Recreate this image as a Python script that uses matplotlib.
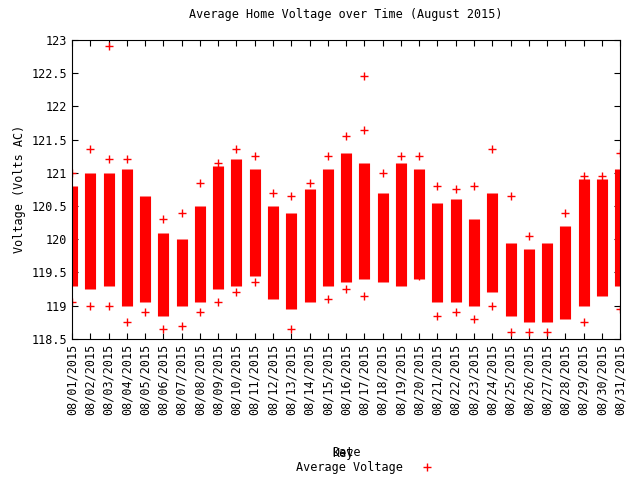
import matplotlib
matplotlib.use("Agg")
import matplotlib.pyplot as plt

# Per-day dense range of readings (volts) and scattered outliers
days = list(range(1, 32))
low = [119.3, 119.25, 119.3, 119.0, 119.05, 118.85, 119.0, 119.05, 119.25, 119.3,
       119.45, 119.1, 118.95, 119.05, 119.3, 119.35, 119.4, 119.35, 119.3, 119.4,
       119.05, 119.05, 119.0, 119.2, 118.85, 118.75, 118.75, 118.8, 119.0, 119.15, 119.3]
high = [120.8, 121.0, 121.0, 121.05, 120.65, 120.1, 120.0, 120.5, 121.1, 121.2,
        121.05, 120.5, 120.4, 120.75, 121.05, 121.3, 121.15, 120.7, 121.15, 121.05,
        120.55, 120.6, 120.3, 120.7, 119.95, 119.85, 119.95, 120.2, 120.9, 120.9, 121.05]
out_days = [1, 1, 2, 2, 3, 3, 3, 4, 4, 5, 6, 6, 7, 7, 8, 8, 9, 9, 10, 10, 11, 11,
            12, 13, 13, 14, 15, 15, 16, 16, 17, 17, 17, 18, 19, 20, 20, 21, 21,
            22, 22, 23, 23, 24, 24, 25, 25, 26, 26, 27, 28, 29, 29, 30, 31, 31]
out_vals = [121.0, 119.05, 121.35, 119.0, 122.9, 121.2, 119.0, 121.2, 118.75, 118.9,
            120.3, 118.65, 120.4, 118.7, 120.85, 118.9, 121.15, 119.05, 121.35, 119.2,
            121.25, 119.35, 120.7, 120.65, 118.65, 120.85, 121.25, 119.1, 121.55, 119.25,
            122.45, 121.65, 119.15, 121.0, 121.25, 121.25, 119.45, 120.8, 118.85,
            120.75, 118.9, 120.8, 118.8, 121.35, 119.0, 120.65, 118.6, 120.05, 118.6,
            118.6, 120.4, 120.95, 118.75, 120.95, 121.3, 118.95]
date_labels = ["08/%02d/2015" % d for d in days]

mono = "DejaVu Sans Mono"
fs = 8.5
fig = plt.figure(figsize=(6.4, 4.8), dpi=100)
ax = fig.add_axes([0.1125, 0.294, 0.8565, 0.623])

ax.vlines(days, low, high, color="red", linewidth=8)
ax.plot(out_days, out_vals, "+", color="red", markersize=6, markeredgewidth=1)

ax.set_xlim(1, 31)
ax.set_ylim(118.5, 123)
ax.set_xticks(days)
ax.set_xticklabels(date_labels, rotation=90, fontfamily=mono, fontsize=fs)
ax.set_yticks([118.5, 119, 119.5, 120, 120.5, 121, 121.5, 122, 122.5, 123])
ax.set_yticklabels(["118.5", "119", "119.5", "120", "120.5", "121", "121.5", "122", "122.5", "123"],
                   fontfamily=mono, fontsize=fs)
ax.tick_params(direction="in", top=True, right=True, length=4)
ax.set_xlabel("Date", fontfamily=mono, fontsize=fs, labelpad=22)
ax.set_ylabel("Voltage (Volts AC)", fontfamily=mono, fontsize=fs)
ax.set_title("Average Home Voltage over Time (August 2015)", fontfamily=mono, fontsize=fs, pad=16)

fig.text(0.536, 0.048, "Key", ha="center", fontfamily=mono, fontsize=fs)
fig.text(0.63, 0.018, "Average Voltage", ha="right", fontfamily=mono, fontsize=fs)
fig.lines.append(plt.Line2D([0.667], [0.028], marker="+", color="red", markersize=6,
                            transform=fig.transFigure))

fig.savefig("out.png", dpi=100)
